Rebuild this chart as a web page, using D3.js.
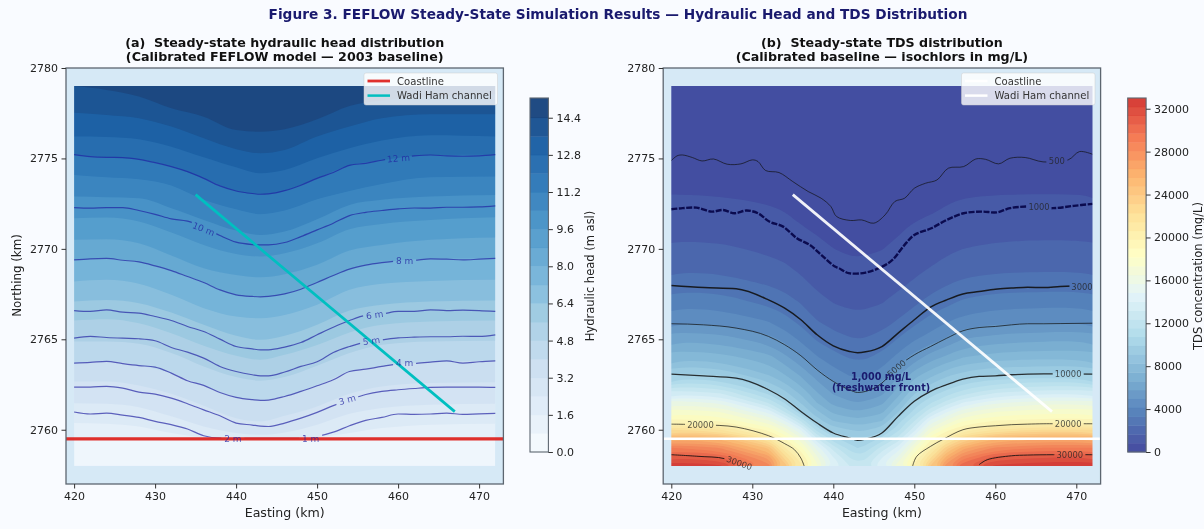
<!DOCTYPE html>
<html>
<head>
<meta charset="utf-8">
<script src="https://cdn.jsdelivr.net/npm/d3@7"></script>
<style>
  html, body { margin: 0; background: #f9fbff; }
  svg { display: block; font-family: "DejaVu Sans", sans-serif; filter: blur(0.4px); }
  .tick text { font-family: "DejaVu Sans", sans-serif; font-size: 11px; fill: #222; }
  .tick line, .domain { stroke: #333; }
  .axlabel { font-size: 12.6px; fill: #222; }
  .ptitle { font-size: 12.66px; font-weight: bold; fill: #111; white-space: pre; }
</style>
</head>
<body>
<svg width="1204" height="529"></svg>
<script>
// ---- panel (a): hydraulic head ----
const headTicks = [0, 1.6, 3.2, 4.8, 6.4, 8.0, 9.6, 11.2, 12.8, 14.4];
const headLevels = [0.8, 1.6, 2.4, 3.2, 4.0, 4.8, 5.6, 6.4, 7.2, 8.0, 8.8, 9.6, 10.4, 11.2, 12.0, 12.8, 13.6, 14.4];
const headBandEastings = [420, 424, 428, 432, 436, 440, 443, 446, 450, 454, 458, 464, 472];
// northing of each filled band boundary, same order as headLevels
const headBands = [
  [2759.44, 2759.44, 2759.44, 2759.44, 2759.44, 2759.44, 2759.44, 2759.44, 2759.44, 2759.44, 2759.44, 2759.44, 2759.44],
  [2760.37, 2760.33, 2760.18, 2759.82, 2759.58, 2759.52, 2759.50, 2759.52, 2759.59, 2759.82, 2760.09, 2760.28, 2760.33],
  [2761.47, 2761.44, 2761.25, 2760.74, 2760.18, 2759.82, 2759.72, 2759.85, 2760.28, 2760.88, 2761.20, 2761.38, 2761.44],
  [2762.67, 2762.67, 2762.45, 2761.99, 2761.33, 2760.64, 2760.46, 2760.77, 2761.29, 2761.99, 2762.39, 2762.58, 2762.62],
  [2763.68, 2763.78, 2763.55, 2763.13, 2762.45, 2761.79, 2761.62, 2761.84, 2762.43, 2763.22, 2763.50, 2763.74, 2763.81],
  [2764.88, 2764.88, 2764.75, 2764.24, 2763.50, 2762.91, 2762.71, 2762.91, 2763.54, 2764.24, 2764.70, 2764.88, 2764.92],
  [2766.04, 2766.11, 2765.89, 2765.34, 2764.64, 2764.09, 2763.87, 2764.14, 2764.68, 2765.38, 2765.80, 2765.99, 2766.04],
  [2767.09, 2767.18, 2767.00, 2766.48, 2765.80, 2765.19, 2764.97, 2765.19, 2765.80, 2766.59, 2766.91, 2767.09, 2767.15],
  [2768.20, 2768.29, 2768.07, 2767.46, 2766.72, 2766.26, 2766.17, 2766.35, 2766.91, 2767.74, 2768.07, 2768.23, 2768.29],
  [2769.39, 2769.47, 2769.28, 2768.80, 2768.14, 2767.46, 2767.35, 2767.51, 2768.14, 2768.88, 2769.24, 2769.45, 2769.47],
  [2770.50, 2770.53, 2770.31, 2769.63, 2768.93, 2768.56, 2768.43, 2768.60, 2769.12, 2769.91, 2770.22, 2770.50, 2770.63],
  [2771.69, 2771.73, 2771.51, 2770.90, 2770.22, 2769.72, 2769.58, 2769.76, 2770.31, 2771.09, 2771.38, 2771.60, 2771.75],
  [2772.89, 2772.85, 2772.80, 2772.25, 2771.60, 2771.01, 2770.77, 2770.96, 2771.64, 2772.43, 2772.71, 2772.89, 2772.98],
  [2774.09, 2773.96, 2773.85, 2773.50, 2772.71, 2772.19, 2771.92, 2772.12, 2772.74, 2773.20, 2773.59, 2773.96, 2774.00],
  [2775.21, 2775.06, 2774.95, 2774.55, 2773.90, 2773.20, 2773.02, 2773.22, 2773.90, 2774.62, 2774.90, 2775.19, 2775.21],
  [2776.21, 2776.19, 2776.06, 2775.65, 2775.06, 2774.51, 2774.18, 2774.36, 2775.01, 2775.56, 2775.99, 2776.28, 2776.21],
  [2777.53, 2777.40, 2777.22, 2776.76, 2776.11, 2775.51, 2775.29, 2775.47, 2776.21, 2776.76, 2777.22, 2777.44, 2777.44],
  [2779.00, 2778.79, 2778.42, 2777.77, 2777.31, 2776.57, 2776.48, 2776.61, 2777.16, 2777.90, 2778.20, 2778.42, 2778.56]
];

const headLineEastings = [420, 422, 424, 426, 428, 430, 432, 434, 436, 438, 440, 442, 443, 444, 446, 448, 450, 452, 454, 456, 458, 460, 462, 464, 466, 468, 470, 472];
const head12m = [2775.21, 2775.10, 2775.06, 2775.05, 2774.95, 2774.77, 2774.55, 2774.27, 2773.90, 2773.48, 2773.20, 2773.06, 2773.02, 2773.04, 2773.22, 2773.52, 2773.90, 2774.22, 2774.62, 2774.73, 2774.90, 2775.03, 2775.14, 2775.19, 2775.14, 2775.12, 2775.14, 2775.21];
const head10m = [2772.28, 2772.25, 2772.28, 2772.28, 2772.12, 2771.91, 2771.66, 2771.53, 2771.18, 2770.74, 2770.37, 2770.24, 2770.22, 2770.22, 2770.35, 2770.68, 2771.05, 2771.42, 2771.84, 2772.02, 2772.12, 2772.21, 2772.26, 2772.25, 2772.30, 2772.30, 2772.32, 2772.38];
const head8m = [2769.39, 2769.45, 2769.47, 2769.37, 2769.28, 2769.06, 2768.80, 2768.47, 2768.14, 2767.73, 2767.46, 2767.37, 2767.35, 2767.37, 2767.51, 2767.77, 2768.14, 2768.53, 2768.88, 2769.10, 2769.24, 2769.34, 2769.37, 2769.45, 2769.43, 2769.39, 2769.43, 2769.47];
const head6m = [2766.59, 2766.54, 2766.63, 2766.50, 2766.45, 2766.26, 2766.04, 2765.71, 2765.43, 2765.01, 2764.60, 2764.47, 2764.42, 2764.42, 2764.57, 2764.82, 2765.25, 2765.67, 2766.04, 2766.32, 2766.39, 2766.54, 2766.54, 2766.63, 2766.59, 2766.61, 2766.59, 2766.54];
const head5m = [2765.06, 2765.16, 2765.10, 2765.06, 2765.03, 2764.92, 2764.55, 2764.29, 2763.96, 2763.50, 2763.22, 2763.04, 2762.98, 2762.98, 2763.19, 2763.50, 2763.76, 2764.27, 2764.60, 2764.86, 2764.97, 2765.08, 2765.12, 2765.14, 2765.14, 2765.17, 2765.16, 2765.25];
const head4m = [2763.68, 2763.72, 2763.78, 2763.66, 2763.55, 2763.46, 2763.13, 2762.71, 2762.45, 2762.06, 2761.79, 2761.66, 2761.62, 2761.64, 2761.84, 2762.12, 2762.43, 2762.76, 2763.22, 2763.35, 2763.50, 2763.63, 2763.66, 2763.74, 2763.81, 2763.68, 2763.76, 2763.81];
const head3m = [2762.36, 2762.36, 2762.40, 2762.30, 2762.08, 2761.97, 2761.75, 2761.44, 2761.10, 2760.77, 2760.37, 2760.26, 2760.20, 2760.18, 2760.37, 2760.64, 2760.96, 2761.33, 2761.66, 2761.95, 2762.12, 2762.21, 2762.28, 2762.34, 2762.36, 2762.36, 2762.36, 2762.34];
const head2m = [2760.98, 2760.87, 2760.92, 2760.81, 2760.68, 2760.46, 2760.28, 2760.04, 2759.67, 2759.54, 2759.53, 2759.53, 2759.53, 2759.53, 2759.53, 2759.53, 2759.63, 2759.87, 2760.22, 2760.52, 2760.68, 2760.87, 2760.85, 2760.87, 2760.92, 2760.85, 2760.88, 2760.90];
const headLines = [head12m, head10m, head8m, head6m, head5m, head4m, head3m, head2m];
const headLabels = [
  {text: '12 m', e: 460.05, n: 2775.01, angle: -5, w: 27},
  {text: '10 m', e: 436, n: 2771.1, angle: 22, w: 27},
  {text: '8 m', e: 460.8, n: 2769.35, angle: 0, w: 23},
  {text: '6 m', e: 457.1, n: 2766.35, angle: -8, w: 23},
  {text: '5 m', e: 456.7, n: 2764.92, angle: -8, w: 23},
  {text: '4 m', e: 460.8, n: 2763.68, angle: 0, w: 23},
  {text: '3 m', e: 453.7, n: 2761.66, angle: -16, w: 23},
  {text: '2 m', e: 439.6, n: 2759.5, angle: 0, w: 23},
  {text: '1 m', e: 449.2, n: 2759.5, angle: 0, w: 23}
];

// ---- panel (b): TDS ----
const tdsTicks = [0, 4000, 8000, 12000, 16000, 20000, 24000, 28000, 32000];
const tdsLevels = d3.range(0, 33000, 825);
const tdsGridEastings = [420, 426, 432, 434, 436, 438, 440, 442, 443, 444, 446, 448, 450, 452, 454, 456, 460, 466, 472];
const tdsGridNorthings = [2758, 2758.5, 2759, 2759.5, 2760, 2760.5, 2761, 2761.5, 2762, 2763, 2764, 2765, 2766, 2767, 2768, 2769, 2770, 2771, 2772, 2773, 2774, 2775, 2776, 2779];
// one list per easting, values going north
const tdsColumns = [
  [32900, 31300, 28900, 26300, 22300, 19300, 17800, 16200, 13900, 10200, 8000, 6500, 4800, 3900, 2950, 2300, 1850, 1400, 1050, 825, 650, 500, 380, 100],
  [32400, 30500, 28000, 25400, 21500, 18900, 17300, 15500, 13300, 9900, 7800, 6200, 4700, 3800, 2900, 2250, 1800, 1350, 1030, 810, 640, 490, 370, 100],
  [28500, 26800, 24500, 21500, 18700, 16700, 14500, 12300, 10600, 8300, 6900, 5300, 4100, 3100, 2450, 1900, 1500, 1200, 920, 720, 560, 430, 340, 100],
  [24500, 22600, 20700, 19000, 17000, 14800, 12300, 10600, 9400, 7500, 6000, 4700, 3600, 2850, 2250, 1750, 1350, 1050, 830, 660, 500, 400, 310, 100],
  [21000, 19800, 18400, 16800, 14700, 12200, 10000, 9000, 8100, 6500, 5100, 3950, 3050, 2450, 1900, 1450, 1120, 880, 720, 570, 440, 350, 270, 100],
  [17500, 16600, 15300, 13300, 11200, 9500, 8400, 7400, 6700, 5400, 4200, 3200, 2500, 1950, 1500, 1200, 960, 780, 640, 510, 400, 310, 240, 100],
  [14800, 14000, 12800, 11000, 9500, 8200, 7200, 6300, 5700, 4600, 3600, 2800, 2150, 1650, 1300, 1000, 830, 680, 540, 430, 340, 270, 210, 100],
  [13200, 12300, 11200, 10100, 9100, 7800, 6800, 5900, 5200, 4100, 3250, 2550, 1950, 1500, 1170, 930, 760, 590, 450, 350, 280, 220, 170, 100],
  [12800, 11900, 10700, 9900, 8900, 7700, 6700, 5800, 5080, 4000, 3180, 2500, 1920, 1480, 1150, 930, 750, 590, 450, 350, 280, 220, 170, 100],
  [13000, 12100, 11000, 10000, 9000, 7800, 6800, 5900, 5150, 4050, 3220, 2530, 1940, 1500, 1170, 940, 760, 570, 440, 350, 280, 220, 170, 100],
  [14800, 13900, 12700, 11000, 9500, 8200, 7200, 6400, 5600, 4550, 3550, 2780, 2130, 1640, 1290, 1000, 810, 630, 490, 380, 300, 240, 190, 100],
  [17000, 15700, 14300, 12700, 11300, 10300, 9000, 8000, 7100, 5700, 4400, 3350, 2550, 1950, 1500, 1200, 970, 760, 590, 470, 380, 300, 230, 100],
  [20000, 18800, 17300, 15500, 13700, 12300, 11000, 10150, 9000, 7100, 5300, 4050, 3050, 2350, 1800, 1400, 1120, 950, 690, 560, 430, 340, 260, 100],
  [24000, 22000, 20200, 18700, 16900, 15000, 13000, 11400, 10300, 8000, 6200, 4500, 3600, 2800, 2150, 1650, 1300, 1030, 800, 640, 470, 380, 290, 100],
  [27800, 25800, 23500, 20800, 18600, 16600, 14700, 12700, 11200, 8900, 6800, 5100, 4050, 3100, 2450, 1900, 1500, 1200, 900, 720, 560, 450, 340, 100],
  [30500, 28300, 26000, 23000, 20000, 18000, 16200, 14000, 12100, 9500, 7400, 5800, 4400, 3500, 2700, 2100, 1650, 1300, 990, 790, 610, 470, 360, 100],
  [32400, 30800, 28200, 25500, 21500, 19000, 17300, 15500, 13300, 10050, 7900, 6200, 4700, 3800, 2900, 2250, 1800, 1400, 1020, 820, 640, 500, 380, 100],
  [32900, 31200, 28900, 26300, 22300, 19300, 17800, 16200, 13900, 10200, 8000, 6400, 4800, 3900, 2950, 2300, 1850, 1450, 1040, 830, 660, 490, 380, 100],
  [32900, 31300, 28900, 26300, 22300, 19300, 17800, 16200, 13900, 10200, 8000, 6500, 4800, 3900, 2950, 2300, 1850, 1400, 1040, 820, 640, 490, 370, 100]
];

const tdsLineEastings = [420, 424, 428, 432, 434, 436, 438, 440, 442, 443, 444, 446, 448, 450, 452, 454, 456, 458, 460, 462, 464, 466, 468, 472];
const tds3000 = [2767.97, 2767.86, 2767.79, 2767.18, 2766.72, 2766.08, 2765.25, 2764.64, 2764.33, 2764.26, 2764.31, 2764.60, 2765.34, 2766.08, 2766.78, 2767.18, 2767.51, 2767.64, 2767.77, 2767.83, 2767.88, 2767.86, 2767.92, 2767.97];
const tds5000 = [2765.86, 2765.80, 2765.62, 2765.16, 2764.70, 2764.09, 2763.31, 2762.67, 2762.21, 2762.06, 2762.12, 2762.58, 2763.50, 2764.14, 2764.60, 2765.06, 2765.47, 2765.65, 2765.71, 2765.80, 2765.86, 2765.86, 2765.87, 2765.89];
const tds10000 = [2763.08, 2762.98, 2762.85, 2762.21, 2761.70, 2761.01, 2760.37, 2759.82, 2759.54, 2759.41, 2759.48, 2759.82, 2760.74, 2761.57, 2762.12, 2762.49, 2762.80, 2762.95, 2762.98, 2763.04, 2763.08, 2763.09, 2763.09, 2763.08];
// wigglier or broken lines, as [easting, northing]
const tds500 = [[420, 2774.88], [420.7, 2775.14], [421.4, 2775.19], [422.6, 2775.05], [423.8, 2774.86], [425.2, 2774.97], [426.9, 2774.68], [428.6, 2774.70], [430, 2774.92], [430.7, 2774.83], [431.65, 2774.33], [433.3, 2774.22], [435, 2773.72], [436.9, 2773.17], [438.5, 2772.80], [439.7, 2772.34], [440.4, 2771.79], [442.1, 2771.57], [443.5, 2771.60], [445, 2771.42], [446.4, 2771.88], [447.6, 2772.62], [448.8, 2772.80], [450, 2773.35], [451.4, 2773.63], [452.8, 2773.81], [454.2, 2774.46], [456.1, 2774.55], [457.6, 2774.97], [458.8, 2774.95], [460.4, 2774.70], [461.8, 2775.01], [463.7, 2775.05], [465.9, 2774.81], [469, 2774.92], [470.4, 2775.38], [472, 2775.23]];
const tds1000 = [[420, 2772.19], [421.4, 2772.25], [423.1, 2772.28], [425, 2772.06], [426.4, 2772.15], [427.8, 2771.97], [429.3, 2772.12], [430.7, 2771.97], [432.1, 2771.51], [433.8, 2771.23], [435.5, 2770.59], [437.1, 2770.22], [438.5, 2769.67], [440.2, 2769.02], [440.7, 2768.93], [441.9, 2768.66], [444, 2768.69], [445.9, 2768.99], [447.3, 2769.39], [448.8, 2770.22], [450, 2770.77], [452.1, 2771.14], [454, 2771.6], [456.1, 2771.97], [458.3, 2772.06], [460.2, 2772.02], [461.8, 2772.25], [464, 2772.34], [467.1, 2772.25], [469.7, 2772.38], [472, 2772.49]];
const tds20000Left = [[420, 2760.31], [424, 2760.27], [428, 2760.15], [432, 2759.67], [434, 2759.23], [435.2, 2758.9], [436, 2758.43], [436.4, 2758]];
const tds20000Right = [[449.8, 2758], [450.3, 2758.53], [452, 2759.08], [453.6, 2759.48], [456, 2760], [458, 2760.15], [460, 2760.22], [462, 2760.28], [464, 2760.31], [466, 2760.33], [472, 2760.33]];
const tds30000Left = [[420, 2758.62], [423.3, 2758.53], [426.6, 2758.40], [428.5, 2758]];
const tds30000Right = [[458, 2758.07], [459, 2758.34], [462, 2758.56], [464, 2758.60], [467.2, 2758.62], [472, 2758.62]];
const tdsLabels = [
  {text: '500', e: 467.6, n: 2774.88, angle: 0, w: 21},
  {text: '1000', e: 465.4, n: 2772.3, angle: 0, w: 25},
  {text: '3000', e: 470.7, n: 2767.92, angle: 0, w: 25},
  {text: '5000', e: 447.8, n: 2763.4, angle: -40, w: 25},
  {text: '10000', e: 469, n: 2763.08, angle: 0, w: 31},
  {text: '20000', e: 469, n: 2760.33, angle: 0, w: 31},
  {text: '20000', e: 423.6, n: 2760.28, angle: 0, w: 31},
  {text: '30000', e: 469.2, n: 2758.62, angle: 0, w: 31},
  {text: '30000', e: 428.4, n: 2758.16, angle: 20, w: 31}
];

// shared map lines
const xTicks = [420, 430, 440, 450, 460, 470];
const yTicks = [2760, 2765, 2770, 2775, 2780];
const coastNorthing = 2759.5;
const coastEastings = [419, 473];
const wadiEastings = [435, 467];
const wadiNorthings = [2773, 2761];

const blues = ['#f7fbff', '#deebf7', '#c6dbef', '#9ecae1', '#6baed6', '#4292c6', '#2171b5', '#08519c', '#08306b'];
const tdsRamp = ['#313695', '#4575b4', '#74add1', '#abd9e9', '#e0f3f8', '#ffffbf', '#fee090', '#fdae61', '#f46d43', '#d02420'];
const headMax = 15.2, tdsMax = 33000;
const headColor = d3.scaleLinear().domain(blues.map((c, i) => i * headMax / (blues.length - 1))).range(blues);
const tdsColor = d3.scaleLinear().domain(tdsRamp.map((c, i) => i * tdsMax / (tdsRamp.length - 1))).range(tdsRamp);

const svg = d3.select('svg');
const yScale = d3.scaleLinear().domain([2757, 2780]).range([484, 68]);
const xA = d3.scaleLinear().domain([419, 473]).range([66, 503.4]);
const xB = d3.scaleLinear().domain([419, 473]).range([663.2, 1100.6]);
const bgAxes = '#d6e9f6';

svg.append('text').attr('x', 618).attr('y', 19).attr('text-anchor', 'middle')
  .style('font-size', '13.7px').style('font-weight', 'bold').style('fill', '#1a1a6e')
  .text('Figure 3. FEFLOW Steady-State Simulation Results — Hydraulic Head and TDS Distribution');

function setupPanel(x, id, titles) {
  const g = svg.append('g');
  g.append('rect').attr('x', x(419)).attr('y', yScale(2780))
    .attr('width', x(473) - x(419)).attr('height', yScale(2757) - yScale(2780)).attr('fill', bgAxes);
  svg.append('clipPath').attr('id', id + 'clip').append('rect')
    .attr('x', x(420)).attr('y', yScale(2779)).attr('width', x(472) - x(420)).attr('height', yScale(2758) - yScale(2779));
  svg.append('clipPath').attr('id', id + 'frame').append('rect')
    .attr('x', x(419)).attr('y', yScale(2780)).attr('width', x(473) - x(419)).attr('height', yScale(2757) - yScale(2780));
  const cx = (x(419) + x(473)) / 2;
  titles.forEach((t, i) => {
    svg.append('text').attr('class', 'ptitle').attr('x', cx).attr('y', 47 + i * 14)
      .attr('text-anchor', 'middle').text(t);
  });
  return g;
}

// mask that cuts contour lines under the clabels
function labelMask(id, x, labels) {
  const m = svg.append('mask').attr('id', id + 'mask').attr('maskUnits', 'userSpaceOnUse')
    .attr('x', 0).attr('y', 0).attr('width', 1204).attr('height', 529);
  m.append('rect').attr('width', 1204).attr('height', 529).attr('fill', 'white');
  m.selectAll('rect.hole').data(labels).enter().append('rect').attr('class', 'hole')
    .attr('x', d => -d.w / 2).attr('y', -6).attr('width', d => d.w).attr('height', 12).attr('fill', 'black')
    .attr('transform', d => `translate(${x(d.e)},${yScale(d.n)}) rotate(${d.angle})`);
}

function drawLabels(x, labels, color, opacity, size) {
  svg.append('g').selectAll('text').data(labels).enter().append('text')
    .attr('transform', d => `translate(${x(d.e)},${yScale(d.n)}) rotate(${d.angle})`)
    .attr('text-anchor', 'middle').attr('dy', '0.36em')
    .style('font-size', size).attr('fill', color).attr('opacity', opacity)
    .text(d => d.text);
}

function drawFrameAndAxes(x, showYLabel) {
  svg.append('rect').attr('x', x(419)).attr('y', yScale(2780))
    .attr('width', x(473) - x(419)).attr('height', yScale(2757) - yScale(2780))
    .attr('fill', 'none').attr('stroke', '#5d6670').attr('stroke-width', 1.3);
  const ax = svg.append('g').attr('transform', `translate(0,${yScale(2757)})`)
    .call(d3.axisBottom(x).tickValues(xTicks).tickSize(4.5).tickPadding(3.5));
  const ay = svg.append('g').attr('transform', `translate(${x(419)},0)`)
    .call(d3.axisLeft(yScale).tickValues(yTicks).tickFormat(d3.format('d')).tickSize(4.5).tickPadding(3.5));
  ax.select('.domain').remove();
  ay.select('.domain').remove();
  svg.append('text').attr('class', 'axlabel').attr('x', (x(419) + x(473)) / 2).attr('y', 517)
    .attr('text-anchor', 'middle').text('Easting (km)');
  if (showYLabel) {
    svg.append('text').attr('class', 'axlabel').style('font-size', '11.8px').attr('text-anchor', 'middle')
      .attr('transform', `translate(21,275.5) rotate(-90)`).text('Northing (km)');
  }
}

function drawLegend(x0, coastColor, wadiColor, coastW) {
  const leg = svg.append('g').attr('transform', `translate(${x0},73)`);
  leg.append('rect').attr('width', 133.5).attr('height', 32).attr('rx', 2)
    .attr('fill', 'white').attr('fill-opacity', 0.8).attr('stroke', '#ccc').attr('stroke-opacity', 0.6).attr('stroke-width', 0.8);
  [['Coastline', coastColor, coastW, 8], ['Wadi Ham channel', wadiColor, 2.5, 22.6]].forEach(r => {
    leg.append('line').attr('x1', 3.5).attr('x2', 26).attr('y1', r[3]).attr('y2', r[3])
      .attr('stroke', r[1]).attr('stroke-width', r[2]);
    leg.append('text').attr('x', 33).attr('y', r[3]).attr('dy', '0.36em')
      .style('font-size', '10.1px').attr('fill', '#333').text(r[0]);
  });
}

function drawColorbar(x0, domainMax, levels, color, ticks, fmt, label, labelX) {
  const w = 18.4;
  const s = d3.scaleLinear().domain([0, domainMax]).range([452, 98]);
  const g = svg.append('g');
  g.append('rect').attr('x', x0).attr('y', 98).attr('width', w).attr('height', 354).attr('fill', 'white');
  g.selectAll('rect.band').data(levels).enter().append('rect').attr('class', 'band')
    .attr('x', x0).attr('width', w)
    .attr('y', (d, i) => s(i + 1 < levels.length ? levels[i + 1] : domainMax))
    .attr('height', (d, i) => s(d) - s(i + 1 < levels.length ? levels[i + 1] : domainMax) + 0.3)
    .attr('fill', (d, i) => color((d + (i + 1 < levels.length ? levels[i + 1] : domainMax)) / 2))
    .attr('opacity', 0.9);
  g.append('rect').attr('x', x0).attr('y', 98).attr('width', w).attr('height', 354)
    .attr('fill', 'none').attr('stroke', '#5d6670').attr('stroke-width', 1.1);
  const axis = svg.append('g').attr('transform', `translate(${x0 + w},0)`)
    .call(d3.axisRight(s).tickValues(ticks).tickFormat(fmt).tickSize(4.5).tickPadding(3.5));
  axis.select('.domain').remove();
  svg.append('text').attr('class', 'axlabel').attr('text-anchor', 'middle').style('font-size', '11.5px')
    .attr('transform', `translate(${labelX},276) rotate(-90)`).text(label);
}

function drawMapLines(x, id, coastColor, coastWidth, coastOpacity, wadiColor, wadiOpacity, wadiWidth) {
  const frame = svg.append('g').attr('clip-path', `url(#${id}frame)`);
  const line = d3.line().x(d => x(d[0])).y(d => yScale(d[1]));
  frame.append('path').attr('d', line(coastEastings.map(e => [e, coastNorthing])))
    .attr('fill', 'none').attr('stroke', coastColor).attr('stroke-width', coastWidth).attr('opacity', coastOpacity);
  svg.append('path').attr('d', line(d3.zip(wadiEastings, wadiNorthings)))
    .attr('fill', 'none').attr('stroke', wadiColor).attr('stroke-width', wadiWidth).attr('opacity', wadiOpacity);
}

// ---- draw (a) ----
setupPanel(xA, 'a', ['(a)  Steady-state hydraulic head distribution', '(Calibrated FEFLOW model — 2003 baseline)']);
const headFill = svg.append('g').attr('clip-path', 'url(#aclip)').attr('opacity', 0.9);
headFill.append('rect').attr('x', xA(420)).attr('y', yScale(2779))
  .attr('width', xA(472) - xA(420)).attr('height', yScale(2758) - yScale(2779))
  .attr('fill', headColor(0.4));
const headArea = d3.area().curve(d3.curveMonotoneX)
  .x((d, i) => xA(headBandEastings[i])).y0(yScale(2779)).y1(d => yScale(d));
headFill.selectAll('path').data(headBands).enter().append('path')
  .attr('d', d => headArea(d))
  .attr('fill', (d, i) => headColor(headLevels[i] + 0.4));

labelMask('a', xA, headLabels);
const headLine = d3.line().curve(d3.curveMonotoneX).x((d, i) => xA(headLineEastings[i])).y(d => yScale(d));
svg.append('g').attr('mask', 'url(#amask)').attr('fill', 'none')
  .selectAll('path').data(headLines).enter().append('path')
  .attr('d', d => headLine(d))
  .attr('stroke', '#1f1fa0').attr('stroke-width', 1.2).attr('stroke-opacity', 0.68);

drawMapLines(xA, 'a', '#dd2420', 3.2, 0.95, '#00bfc0', 1, 2.7);
drawLabels(xA, headLabels, '#2020a0', 0.72, '9px');
drawFrameAndAxes(xA, true);
drawLegend(364, '#e0302c', '#00bfc0', 2.8);
const headColorLevels = [0].concat(headLevels);
drawColorbar(530, headMax + 0.05, headColorLevels, headColor, headTicks, d3.format('.1f'), 'Hydraulic head (m asl)', 594);

// ---- draw (b) ----
setupPanel(xB, 'b', ['(b)  Steady-state TDS distribution', '(Calibrated baseline — isochlors in mg/L)']);
const tdsFill = svg.append('g').attr('clip-path', 'url(#bclip)').attr('opacity', 0.9);
const nCols = tdsGridEastings.length, nRows = tdsGridNorthings.length;
const flat = [];
tdsGridNorthings.forEach((n, r) => tdsColumns.forEach(col => flat.push(col[r])));
// no clamp: polygons overshoot the data box and the clip trims them
const colScale = d3.scaleLinear().domain(tdsGridEastings.map((e, i) => i + 0.5)).range(tdsGridEastings);
const rowScale = d3.scaleLinear().domain(tdsGridNorthings.map((n, i) => i + 0.5)).range(tdsGridNorthings);
const ringLine = d3.line().curve(d3.curveBasisClosed)
  .x(d => xB(colScale(d[0]))).y(d => yScale(rowScale(d[1])));
const polys = d3.contours().size([nCols, nRows]).thresholds(tdsLevels)(flat);
tdsFill.selectAll('path').data(polys).enter().append('path')
  .attr('fill-rule', 'evenodd')
  .attr('d', d => d.coordinates.map(poly => poly.map(ring => ringLine(ring.slice(0, -1))).join('')).join(''))
  .attr('fill', d => tdsColor(d.value + 412.5));

labelMask('b', xB, tdsLabels);
const pairLine = d3.line().curve(d3.curveMonotoneX).x(d => xB(d[0])).y(d => yScale(d[1]));
const tdsGroup = svg.append('g').attr('mask', 'url(#bmask)').attr('clip-path', 'url(#bclip)').attr('fill', 'none').attr('stroke', '#111');
[[tds3000, 1.5, 0.9], [tds5000, 0.9, 0.8], [tds10000, 1.3, 0.85]].forEach(r => {
  tdsGroup.append('path').attr('d', pairLine(d3.zip(tdsLineEastings, r[0])))
    .attr('stroke-width', r[1]).attr('stroke-opacity', r[2]);
});
const plainLine = d3.line().curve(d3.curveCatmullRom).x(d => xB(d[0])).y(d => yScale(d[1]));
[[tds500, 0.8], [tds20000Left, 0.8], [tds20000Right, 0.8], [tds30000Left, 1], [tds30000Right, 1]].forEach(r => {
  tdsGroup.append('path').attr('d', plainLine(r[0])).attr('stroke-width', r[1]).attr('stroke-opacity', 0.85);
});
tdsGroup.append('path').attr('d', plainLine(tds1000))
  .attr('stroke', '#0b0b4f').attr('stroke-width', 2.4).attr('stroke-dasharray', '6,1.5');

drawMapLines(xB, 'b', 'white', 2.5, 1, 'white', 0.92, 2.8);
drawLabels(xB, tdsLabels, '#222', 0.75, '8.4px');
[['1,000 mg/L', 379.5], ['(freshwater front)', 390.5]].forEach(t => {
  svg.append('text').attr('x', xB(445.9)).attr('y', t[1]).attr('text-anchor', 'middle')
    .style('font-size', '9.6px').style('font-weight', 'bold').style('fill', '#1a1a6e').text(t[0]);
});
drawFrameAndAxes(xB, false);
drawLegend(961.5, 'white', 'white', 2.5);
drawColorbar(1127.7, tdsMax, tdsLevels, tdsColor, tdsTicks, d3.format('d'), 'TDS concentration (mg/L)', 1202);
</script>
</body>
</html>
